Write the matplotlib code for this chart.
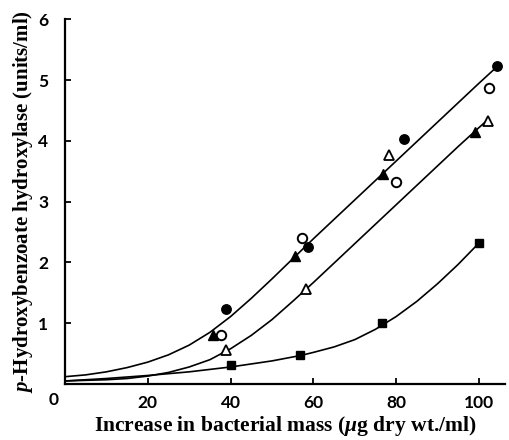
import matplotlib
matplotlib.use("Agg")
import matplotlib.pyplot as plt

plt.rcParams["mathtext.fontset"] = "custom"
plt.rcParams["mathtext.it"] = "Liberation Serif:italic:bold"
plt.rcParams["mathtext.rm"] = "Liberation Serif:bold"

# measured points (x = increase in bacterial mass, y = enzyme units/ml)
filled_circle_x = [39.0, 58.8, 81.9, 104.3]
filled_circle_y = [1.23, 2.26, 4.04, 5.24]
open_circle_x = [37.8, 57.3, 79.9, 102.5]
open_circle_y = [0.81, 2.41, 3.32, 4.88]
filled_tri_x = [35.8, 55.6, 76.8, 99.0]
filled_tri_y = [0.80, 2.11, 3.46, 4.14]
open_tri_x = [39.0, 58.2, 78.3, 102.2]
open_tri_y = [0.56, 1.57, 3.77, 4.33]
square_x = [40.1, 56.8, 76.5, 100.0]
square_y = [0.31, 0.48, 1.01, 2.32]

# hand-drawn fitted curves
upper_x = [0, 5, 10, 15, 20, 25, 30, 35, 40, 45, 50, 55, 60, 65, 70, 75, 80, 85, 90, 95, 100, 104]
upper_y = [0.12, 0.15, 0.20, 0.27, 0.36, 0.48, 0.64, 0.85, 1.11, 1.41, 1.73, 2.06, 2.39, 2.71,
           3.03, 3.35, 3.67, 3.99, 4.31, 4.63, 4.95, 5.20]
middle_x = [0, 5, 10, 15, 20, 25, 30, 35, 40, 45, 50, 55, 60, 65, 70, 75, 80, 85, 90, 95, 100, 102]
middle_y = [0.05, 0.06, 0.07, 0.09, 0.13, 0.19, 0.28, 0.40, 0.58, 0.80, 1.06, 1.36, 1.67, 1.99,
            2.31, 2.63, 2.95, 3.27, 3.59, 3.91, 4.22, 4.34]
lower_x = [0, 10, 20, 30, 40, 50, 57, 60, 65, 70, 75, 80, 85, 90, 95, 100]
lower_y = [0.05, 0.09, 0.14, 0.20, 0.28, 0.38, 0.47, 0.52, 0.61, 0.73, 0.90, 1.11, 1.36, 1.65, 1.97, 2.32]

x_ticks = [0, 20, 40, 60, 80, 100]
y_ticks = [0, 1, 2, 3, 4, 5, 6]

fig = plt.figure(figsize=(5.1, 4.4), dpi=100)
ax = fig.add_axes([0.1275, 0.1273, 0.8627, 0.8284])

for cx, cy in [(upper_x, upper_y), (middle_x, middle_y), (lower_x, lower_y)]:
    ax.plot(cx, cy, color="black", lw=1.2, zorder=2)

ms = 6.8
ax.plot(filled_circle_x, filled_circle_y, "o", ms=ms, mfc="black", mec="black", zorder=3)
ax.plot(open_circle_x, open_circle_y, "o", ms=ms, mfc="white", mec="black", mew=1.4, zorder=3)
ax.plot(filled_tri_x, filled_tri_y, "^", ms=ms, mfc="black", mec="black", zorder=3)
ax.plot(open_tri_x, open_tri_y, "^", ms=ms, mfc="white", mec="black", mew=1.3, zorder=3)
ax.plot(square_x, square_y, "s", ms=6.0, mfc="black", mec="black", zorder=3)

tick_font = dict(fontfamily="Lato", fontweight="bold", fontsize=12.5)
ax.set_xlim(0, 106.3)
ax.set_ylim(0, 6)
ax.set_xticks(x_ticks)
ax.set_yticks(y_ticks)
ax.set_xticklabels(["" if t == 0 else str(t) for t in x_ticks], **tick_font)
ax.set_yticklabels(["" if t == 0 else str(t) for t in y_ticks], **tick_font)
ax.spines["top"].set_visible(False)
ax.spines["right"].set_visible(False)
ax.spines["left"].set_linewidth(1.6)
ax.spines["bottom"].set_linewidth(1.6)
ax.tick_params(direction="in", length=4, width=1.3)
ax.tick_params(axis="x", pad=8)
ax.tick_params(axis="y", pad=12)
ax.text(-0.027, -0.044, "0", transform=ax.transAxes, ha="center", va="center", **tick_font)

ax.set_xlabel(r"Increase in bacterial mass ($\mu$g dry wt./ml)", fontfamily="Liberation Serif",
              fontweight="bold", fontsize=15.5, labelpad=2)
ax.set_ylabel(r"$p$-Hydroxybenzoate hydroxylase (units/ml)", fontfamily="Liberation Serif",
              fontweight="bold", fontsize=15, labelpad=2)

fig.savefig("out.png", dpi=100)
